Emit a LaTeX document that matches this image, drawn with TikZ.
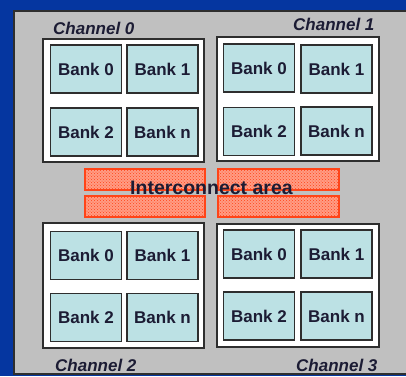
\documentclass[tikz,border=0pt]{standalone}
\usepackage{fontspec}
\setmainfont{Liberation Sans}
\usetikzlibrary{patterns}
\definecolor{bgblue}{HTML}{0536A0}
\definecolor{panelgray}{HTML}{C0C0C0}
\definecolor{bankfill}{HTML}{BCE1E4}
\definecolor{edge}{HTML}{2E2E2E}
\definecolor{inkdark}{HTML}{1C1C34}
\definecolor{icred}{HTML}{FF4418}
\definecolor{icpink}{HTML}{FF9C84}
\begin{document}
\begin{tikzpicture}[x=1pt,y=-1pt,
  chanbox/.style={draw=edge,line width=1.6pt,fill=white,rectangle,inner sep=0pt},
  bank/.style={draw=edge,line width=1.8pt,fill=bankfill,rectangle,inner sep=0pt,
    minimum width=71pt,minimum height=48pt,text=inkdark,
    font=\fontsize{17}{20}\selectfont\bfseries},
  icbar/.style={draw=icred,line width=1.2pt,fill=icpink,rectangle,inner sep=0pt,
    minimum height=21pt,postaction={pattern=crosshatch dots,pattern color=icred}},
  chanlabel/.style={anchor=base west,inner sep=0pt,text=inkdark,
    font=\fontsize{17}{20}\selectfont\bfseries\itshape},
  iclabel/.style={anchor=base,inner sep=0pt,text=inkdark,
    font=\fontsize{19.5}{23}\selectfont\bfseries}]
\useasboundingbox (0,0) rectangle (406,376);
% background and panel
\fill[bgblue] (0,0) rectangle (406,376);
\begin{scope}
\clip (0,0) rectangle (406,376);
\draw[fill=panelgray,draw=edge,line width=1.5pt] (14,11) rectangle (420,374);
\end{scope}
% channel frames
\node[chanbox,minimum width=161pt,minimum height=123pt] (ch0) at (123.5,100.5) {};
\node[chanbox,minimum width=162pt,minimum height=124pt] (ch1) at (298,99) {};
\node[chanbox,minimum width=161pt,minimum height=125pt] (ch2) at (123.5,285.5) {};
\node[chanbox,minimum width=162pt,minimum height=123pt] (ch3) at (298,285.5) {};
% channel 0 banks
\node[bank] (c0b0) at (86,69) {Bank 0};
\node[bank] (c0b1) at (162.5,69) {Bank 1};
\node[bank] (c0b2) at (86,132) {Bank 2};
\node[bank] (c0bn) at (162.5,132) {Bank n};
% channel 1 banks
\node[bank] (c1b0) at (259,68) {Bank 0};
\node[bank] (c1b1) at (336.5,69) {Bank 1};
\node[bank] (c1b2) at (259,131.5) {Bank 2};
\node[bank] (c1bn) at (336.5,131) {Bank n};
% channel 2 banks
\node[bank] (c2b0) at (86,255.5) {Bank 0};
\node[bank] (c2b1) at (162.5,255.5) {Bank 1};
\node[bank] (c2b2) at (86,317.5) {Bank 2};
\node[bank] (c2bn) at (162.5,317.5) {Bank n};
% channel 3 banks
\node[bank] (c3b0) at (259,254) {Bank 0};
\node[bank] (c3b1) at (336.5,254) {Bank 1};
\node[bank] (c3b2) at (259,316) {Bank 2};
\node[bank] (c3bn) at (336.5,316) {Bank n};
% interconnect strips
\node[icbar,minimum width=120pt] (icTL) at (145,179.5) {};
\node[icbar,minimum width=121pt] (icTR) at (278.5,179.5) {};
\node[icbar,minimum width=120pt] (icBL) at (145,206.5) {};
\node[icbar,minimum width=121pt] (icBR) at (278.5,206.5) {};
\node[iclabel] (ictext) at (211.5,194) {Interconnect area};
% channel captions
\node[chanlabel] (lab0) at (53,34) {Channel 0};
\node[chanlabel] (lab1) at (293,30) {Channel 1};
\node[chanlabel] (lab2) at (55,371) {Channel 2};
\node[chanlabel] (lab3) at (296,371) {Channel 3};
\end{tikzpicture}
\end{document}
